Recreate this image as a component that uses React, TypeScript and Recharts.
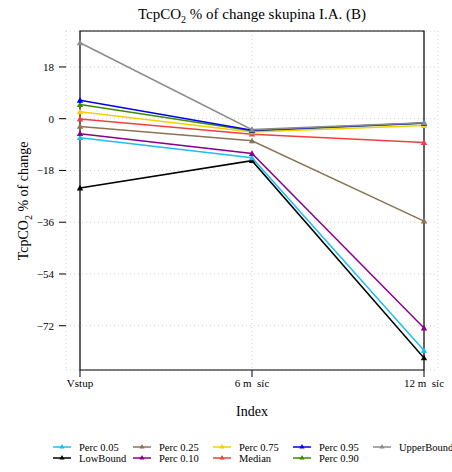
import React from 'react'
import { LineChart, Line, XAxis, YAxis, CartesianGrid, ReferenceArea } from 'recharts'

const categories = ['Vstup', '6 m\u00a0\u00a0síc', '12 m\u00a0\u00a0síc']
const yTicks = [18, 0, -18, -36, -54, -72]

const lowBound = [-24.1, -14.6, -83.2]
const perc05 = [-6.6, -13.6, -80.6]
const perc10 = [-5.2, -12.1, -72.8]
const perc25 = [-2.7, -7.7, -35.6]
const median = [-0.1, -5.4, -8.3]
const perc75 = [2.4, -4.6, -2.4]
const perc90 = [4.9, -4.2, -1.6]
const perc95 = [6.4, -4.0, -1.5]
const upperBound = [26.4, -3.8, -1.4]

type Series = { key: string; name: string; color: string; values: number[] }

// drawing order (last on top)
const series: Series[] = [
  { key: 'lb', name: 'LowBound', color: '#000000', values: lowBound },
  { key: 'p05', name: 'Perc 0.05', color: '#1EBEF5', values: perc05 },
  { key: 'p10', name: 'Perc 0.10', color: '#8B008B', values: perc10 },
  { key: 'p25', name: 'Perc 0.25', color: '#8B7355', values: perc25 },
  { key: 'med', name: 'Median', color: '#F04040', values: median },
  { key: 'p75', name: 'Perc 0.75', color: '#F5D000', values: perc75 },
  { key: 'p90', name: 'Perc 0.90', color: '#3C8C00', values: perc90 },
  { key: 'p95', name: 'Perc 0.95', color: '#0000F0', values: perc95 },
  { key: 'ub', name: 'UpperBound', color: '#8C8C8C', values: upperBound }
]

// legend layout, column by column
const legendOrder = ['Perc 0.05', 'LowBound', 'Perc 0.25', 'Perc 0.10', 'Perc 0.75', 'Median', 'Perc 0.95', 'Perc 0.90', 'UpperBound']

const data = categories.map((c, i) => {
  const row: any = { cat: c }
  series.forEach((s) => { row[s.key] = s.values[i] })
  return row
})

const FONT = "'Liberation Serif', 'DejaVu Serif', serif"
const fmt = (v: number) => String(v).replace('-', '\u2212')

const Tri = ({ cx, cy, fill, size = 3.2 }: any) => {
  if (cx == null || cy == null) return null
  return <path d={`M${cx},${cy - size} L${cx + size},${cy + size * 0.75} L${cx - size},${cy + size * 0.75} Z`} fill={fill} />
}

const Overlay = () => {
  const colX = [53, 133, 213, 293, 373]
  const rowY = [447, 458]
  return (
    <svg width={452} height={472} style={{ position: 'absolute', left: 0, top: 0, pointerEvents: 'none', fontFamily: FONT }}>
      <text x={252} y={19} textAnchor="middle" fontSize={15} fill="#000">
        TcpCO<tspan fontSize={10} dy={4}>2</tspan><tspan dy={-4}> % of change skupina I.A. (B)</tspan>
      </text>
      <text x={252} y={416} textAnchor="middle" fontSize={14} fill="#000">Index</text>
      <text transform="translate(28,201) rotate(-90)" textAnchor="middle" fontSize={14} fill="#000">
        TcpCO<tspan fontSize={10} dy={4}>2</tspan><tspan dy={-4}> % of change</tspan>
      </text>
      {legendOrder.map((n, i) => {
        const s = series.find((q) => q.name === n)!
        const x = colX[Math.floor(i / 2)]
        const y = rowY[i % 2]
        return (
          <g key={n}>
            <line x1={x} x2={x + 18} y1={y} y2={y} stroke={s.color} strokeWidth={1.5} />
            <Tri cx={x + 9} cy={y - 0.5} fill={s.color} size={2.6} />
            <text x={x + 26} y={y + 3.5} fontSize={10.5} fill="#000">{n}</text>
          </g>
        )
      })}
    </svg>
  )
}

export default function App() {
  return (
    <div style={{ position: 'relative', width: 452, height: 472, background: '#fff', fontFamily: FONT }}>
      <style>{'body{margin:0} .recharts-text{font-family:' + FONT + '}'}</style>
      <LineChart width={452} height={472} data={data} margin={{ top: 31, right: 14, left: 0, bottom: 72 }}>
        <CartesianGrid strokeDasharray="1 3" stroke="#cfcfcf" />
        <XAxis
          dataKey="cat"
          axisLine={false}
          tickLine={{ stroke: '#000' }}
          tickSize={7}
          tickMargin={2}
          height={30}
          padding={{ left: 14, right: 14 }}
          tick={{ fill: '#000', fontSize: 11 }}
          interval={0}
        />
        <YAxis
          type="number"
          domain={[-87.4, 30.5]}
          ticks={yTicks}
          allowDataOverflow
          width={66}
          axisLine={false}
          tickLine={{ stroke: '#000' }}
          tickSize={7}
          tickMargin={5}
          tickFormatter={fmt}
          tick={{ fill: '#000', fontSize: 11 }}
        />
        <ReferenceArea y1={-87.4} y2={30.5} fill="none" stroke="#000" strokeWidth={1.2} ifOverflow="visible" />
        {series.map((s) => (
          <Line
            key={s.key}
            dataKey={s.key}
            name={s.name}
            stroke={s.color}
            strokeWidth={1.5}
            isAnimationActive={false}
            dot={(p: any) => <Tri key={`${s.key}-${p.index}`} cx={p.cx} cy={p.cy} fill={s.color} />}
            activeDot={false}
          />
        ))}
      </LineChart>
      <Overlay />
    </div>
  )
}
